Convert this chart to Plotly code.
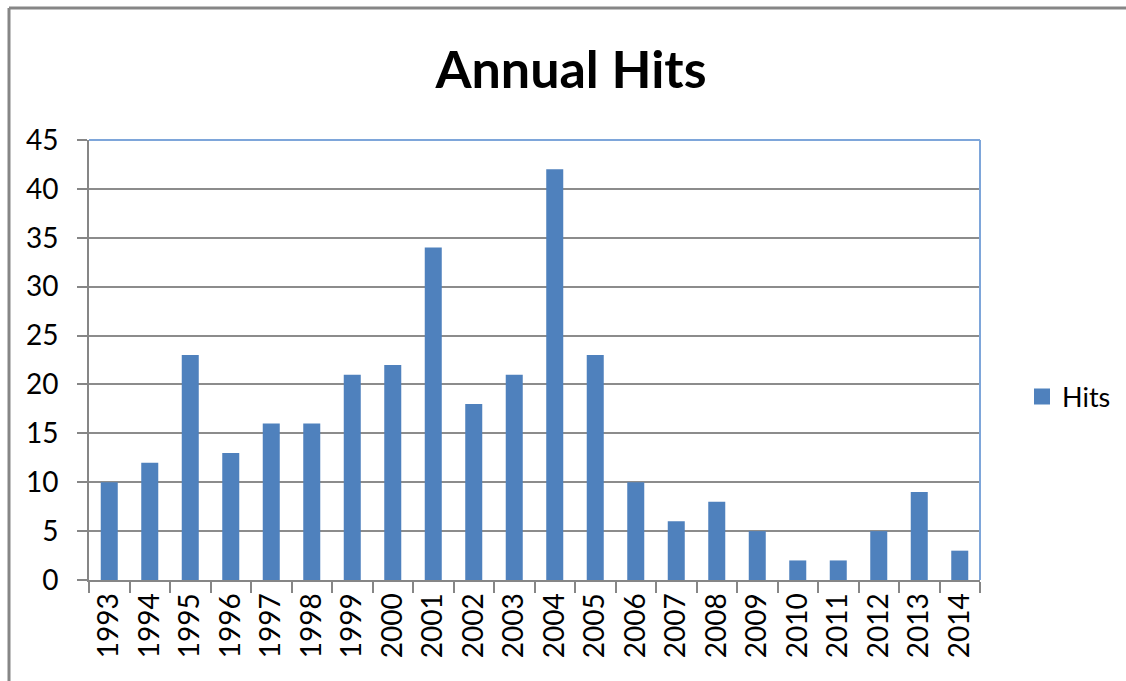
import plotly.graph_objects as go

years = [str(y) for y in range(1993, 2015)]
hits = [10, 12, 23, 13, 16, 16, 21, 22, 34, 18, 21, 42, 23, 10, 6, 8, 5, 2, 2, 5, 9, 3]
y_ticks = [0, 5, 10, 15, 20, 25, 30, 35, 40, 45]

W, H = 1126, 681
L, R, T, B = 89, 980, 140, 580

fig = go.Figure()
fig.add_trace(go.Bar(x=years, y=hits, name="Hits", showlegend=False,
                     marker=dict(color="#4F81BD", line=dict(width=0))))
# legend entry with a larger square swatch
fig.add_trace(go.Scatter(x=[None], y=[None], mode="markers", name="Hits",
                         marker=dict(symbol="square", size=16, color="#4F81BD")))

pw, ph = R - L, B - T
def px_x(x):
    return (x - L) / pw
def px_y(y):
    return (B - y) / ph

fig.update_layout(
    width=W, height=H,
    margin=dict(l=L, r=W - R, t=T, b=H - B, pad=0, autoexpand=False),
    paper_bgcolor="white", plot_bgcolor="white",
    bargap=0.58,
    font=dict(family="Lato, Open Sans, sans-serif", color="#000000", size=27),
    title=dict(text="<b>Annual Hits</b>", x=571 / W, xref="container", xanchor="center",
               y=1 - 70 / H, yref="container", yanchor="middle",
               font=dict(family="Lato, sans-serif", size=52, color="#000000")),
    showlegend=True,
    legend=dict(x=px_x(1022), y=px_y(397), xanchor="left", yanchor="middle",
                font=dict(size=27), bgcolor="rgba(0,0,0,0)", itemwidth=30),
    xaxis=dict(type="category", tickson="boundaries", ticks="outside", ticklen=11,
               tickcolor="#868686", tickwidth=2, showline=True, linecolor="#868686", linewidth=2,
               tickangle=-90, showgrid=False, tickfont=dict(size=28)),
    yaxis=dict(range=[0, 45], tickvals=y_ticks, ticks="outside", ticklen=10, tickcolor="#868686",
               tickwidth=2, showline=True, linecolor="#868686", linewidth=2,
               showgrid=True, gridcolor="#8C8C8C", gridwidth=2, zeroline=False,
               ticklabelstandoff=13, tickfont=dict(size=28)),
    shapes=[
        dict(type="line", xref="paper", yref="paper", x0=0, x1=1, y0=1, y1=1,
             line=dict(color="#7EA6DA", width=2)),
        dict(type="line", xref="paper", yref="paper", x0=1, x1=1, y0=0, y1=1,
             line=dict(color="#7EA6DA", width=2)),
        dict(type="line", xref="paper", yref="paper", x0=px_x(9), x1=px_x(1130), y0=px_y(8), y1=px_y(8),
             line=dict(color="#868686", width=3)),
        dict(type="line", xref="paper", yref="paper", x0=px_x(9), x1=px_x(9), y0=px_y(8), y1=px_y(690),
             line=dict(color="#868686", width=3)),
    ],
)

fig.write_html("out.html")
